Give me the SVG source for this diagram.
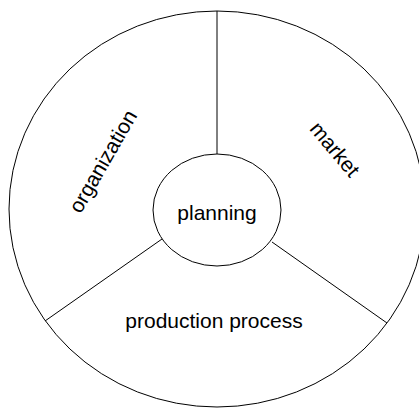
<svg xmlns="http://www.w3.org/2000/svg" width="419" height="408" viewBox="0 0 419 408">
<style>
.s{fill:#fff;stroke:#000;stroke-width:1}
.l{stroke:#000;stroke-width:1;fill:none}
.t{font-family:"Liberation Sans",Arial,sans-serif;font-size:21px;fill:#000;text-anchor:middle}
</style>
<rect width="419" height="408" fill="#fff"/>
<g id="outer"><ellipse class="s" cx="217" cy="209" rx="208" ry="198"/></g>
<g id="connectors">
<line class="l" x1="217" y1="11" x2="217" y2="154"/>
<line class="l" x1="162" y1="239" x2="45" y2="321"/>
<line class="l" x1="272" y1="242" x2="387" y2="323"/>
</g>
<g id="planning"><ellipse class="s" cx="217" cy="210" rx="64" ry="56"/><text class="t" x="217" y="220">planning</text></g>
<g id="organization"><text class="t" transform="translate(104,162) rotate(-60)" x="0" y="6">organization</text></g>
<g id="market"><text class="t" transform="translate(334,150) rotate(50)" x="0" y="6">market</text></g>
<g id="production"><text class="t" x="214" y="328">production process</text></g>
</svg>
